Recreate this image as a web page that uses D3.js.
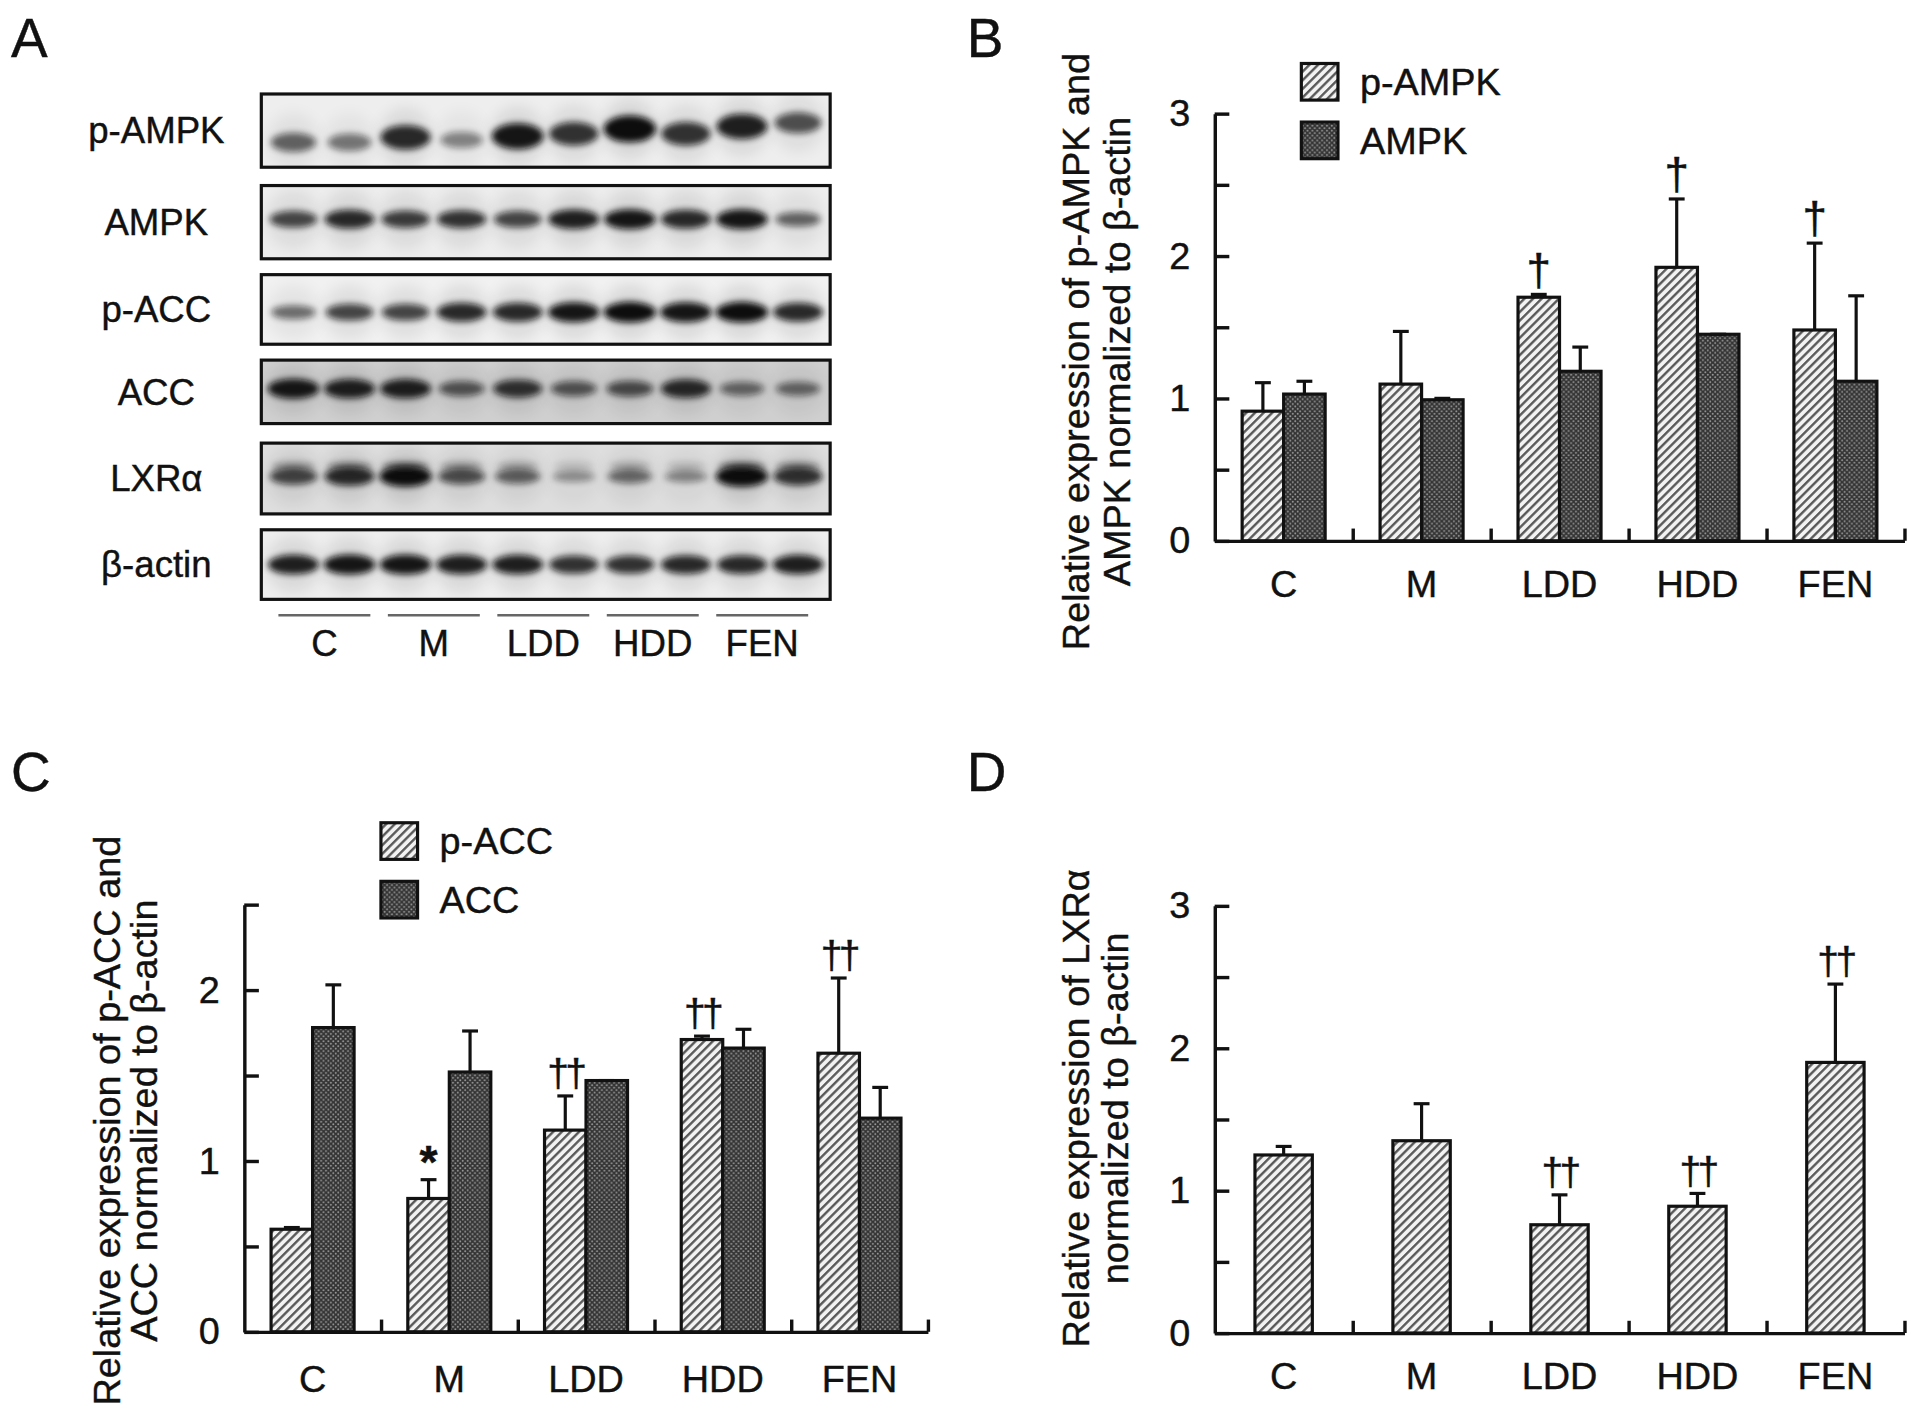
<!DOCTYPE html>
<html>
<head>
<meta charset="utf-8">
<script src="https://cdn.jsdelivr.net/npm/d3@7"></script>
<style>
  body { margin: 0; background: #fff; }
  svg { display: block; font-family: "Liberation Sans", Arial, sans-serif; }
  svg text { stroke: #111; stroke-width: 0.35px; }
</style>
</head>
<body>
<svg id="fig" width="1913" height="1416" viewBox="0 0 1567 1160"></svg>
<script>
// ---- data ----
var groups = ["C", "M", "LDD", "HDD", "FEN"];

var pAMPK   = [0.91, 1.10, 1.71, 1.92, 1.48];
var pAMPKsd = [0.20, 0.37, 0.02, 0.48, 0.61];
var AMPK    = [1.03, 0.99, 1.19, 1.45, 1.12];
var AMPKsd  = [0.09, 0.01, 0.17, 0.00, 0.60];
var markB   = ["", "", "†", "†", "†"];

var pACC    = [0.60, 0.78, 1.18, 1.71, 1.63];
var pACCsd  = [0.01, 0.11, 0.20, 0.02, 0.44];
var ACC     = [1.78, 1.52, 1.47, 1.66, 1.25];
var ACCsd   = [0.25, 0.24, 0.00, 0.11, 0.18];
var markC   = ["", "*", "††", "††", "††"];

var LXRa    = [1.25, 1.35, 0.76, 0.89, 1.90];
var LXRasd  = [0.06, 0.26, 0.21, 0.09, 0.55];
var markD   = ["", "", "††", "††", "††"];

// western blot: relative band density per lane (10 lanes, 2 per group)
var blotRows = ["p-AMPK", "AMPK", "p-ACC", "ACC", "LXRα", "β-actin"];
var bandsPAMPK = [0.55, 0.45, 0.85, 0.38, 0.95, 0.8, 1.0, 0.8, 0.9, 0.65];
var bandsAMPK  = [0.7, 0.85, 0.75, 0.8, 0.7, 0.9, 0.95, 0.85, 0.95, 0.55];
var bandsPACC  = [0.5, 0.7, 0.7, 0.85, 0.85, 0.95, 1.0, 0.95, 1.0, 0.85];
var bandsACC   = [0.95, 0.9, 0.9, 0.6, 0.8, 0.6, 0.65, 0.85, 0.5, 0.5];
var bandsLXR   = [0.7, 0.85, 1.0, 0.65, 0.55, 0.3, 0.5, 0.35, 1.0, 0.8];
var bandsActin = [0.9, 0.95, 0.95, 0.9, 0.9, 0.8, 0.8, 0.85, 0.85, 0.9];
var blotBands = [bandsPAMPK, bandsAMPK, bandsPACC, bandsACC, bandsLXR, bandsActin];

// ---- drawing ----
var svg = d3.select("#fig");
var defs = svg.append("defs");

var hatch = defs.append("pattern").attr("id", "hatch")
  .attr("patternUnits", "userSpaceOnUse").attr("width", 5).attr("height", 5)
  .attr("patternTransform", "rotate(45)");
hatch.append("rect").attr("width", 5).attr("height", 5).attr("fill", "#f2f2f2");
hatch.append("line").attr("x1", 1).attr("y1", 0).attr("x2", 1).attr("y2", 5)
  .attr("stroke", "#555").attr("stroke-width", 1.9);

var dots = defs.append("pattern").attr("id", "dots")
  .attr("patternUnits", "userSpaceOnUse").attr("width", 4).attr("height", 4);
dots.append("rect").attr("width", 4).attr("height", 4).attr("fill", "#333");
dots.append("circle").attr("cx", 1).attr("cy", 1).attr("r", 0.8).attr("fill", "#9a9a9a");
dots.append("circle").attr("cx", 3).attr("cy", 3).attr("r", 0.8).attr("fill", "#9a9a9a");

var blur = defs.append("filter").attr("id", "blur")
  .attr("x", "-50%").attr("y", "-100%").attr("width", "200%").attr("height", "300%");
blur.append("feGaussianBlur").attr("stdDeviation", 2.8);

var blur2 = defs.append("filter").attr("id", "blur2")
  .attr("x", "-50%").attr("y", "-100%").attr("width", "200%").attr("height", "300%");
blur2.append("feGaussianBlur").attr("stdDeviation", 6);

function panelLetter(t, x, y) {
  svg.append("text").attr("x", x).attr("y", y).attr("font-size", 45).attr("fill", "#111").text(t);
}
panelLetter("A", 9, 47);
panelLetter("B", 792, 47);
panelLetter("C", 9, 648);
panelLetter("D", 792, 648);

// ---------- panel A : blot ----------
var blotX0 = 214, blotX1 = 680;
var rowTop = [77, 152, 225, 295, 363, 434];
var rowBot = [137, 212, 282, 347, 421, 491];
var rowBandY = [0.66, 0.46, 0.54, 0.45, 0.47, 0.5];
var rowBg = ["#eeeeee", "#ededed", "#f1f1f1", "#cfcfcf", "#dedede", "#eeeeee"];
var pAMPKshift = [0, 0, -4, -2, -5, -7, -11, -7, -13, -16];

var lane = d3.scaleBand().domain(d3.range(10)).range([blotX0 + 2, blotX1 - 2]).padding(0.06);
var dens = d3.scaleLinear().domain([0, 1]).range([0.12, 1]);

var blot = svg.append("g");
blotRows.forEach(function (name, r) {
  var top = rowTop[r], bot = rowBot[r], h = bot - top;
  var cid = "clip" + r;
  defs.append("clipPath").attr("id", cid).append("rect")
    .attr("x", blotX0).attr("y", top).attr("width", blotX1 - blotX0).attr("height", h);
  var g = blot.append("g").attr("clip-path", "url(#" + cid + ")");
  g.append("rect").attr("x", blotX0).attr("y", top).attr("width", blotX1 - blotX0)
    .attr("height", h).attr("fill", rowBg[r]);
  var cy = function (d, i) { return top + h * rowBandY[r] + (r === 0 ? pAMPKshift[i] : 0); };
  var cx = function (d, i) { return lane(i) + lane.bandwidth() / 2; };
  // faint smear along each lane
  g.selectAll("ellipse.smear").data(blotBands[r]).enter().append("ellipse")
    .attr("cx", cx).attr("cy", cy)
    .attr("rx", lane.bandwidth() * 0.5).attr("ry", h * 0.4)
    .attr("fill", "#000").attr("opacity", function (d) { return 0.1 * d; })
    .attr("filter", "url(#blur2)");
  g.selectAll("ellipse.band").data(blotBands[r]).enter().append("ellipse")
    .attr("cx", cx).attr("cy", cy)
    .attr("rx", function (d) { return 15 + 6.5 * d; })
    .attr("ry", function (d) { return (r === 0 ? 4 : 3) + (r === 0 ? 7 : 5.5) * d; })
    .attr("fill", "#0a0a0a").attr("opacity", function (d) { return dens(d); })
    .attr("filter", "url(#blur)");
  if (r === 4) {
    // LXRα shows a doublet
    g.selectAll("ellipse.dbl").data(blotBands[r]).enter().append("ellipse")
      .attr("cx", cx).attr("cy", top + h * rowBandY[r] - 8)
      .attr("rx", function (d) { return 14 + 5 * d; }).attr("ry", 4)
      .attr("fill", "#111").attr("opacity", function (d) { return 0.5 * d; })
      .attr("filter", "url(#blur)");
  }
  blot.append("rect").attr("x", blotX0).attr("y", top).attr("width", blotX1 - blotX0)
    .attr("height", h).attr("fill", "none").attr("stroke", "#111").attr("stroke-width", 2.6);
  blot.append("text").attr("x", 128).attr("y", (top + bot) / 2).attr("dy", "0.35em")
    .attr("text-anchor", "middle").attr("font-size", 30).attr("fill", "#111").text(name);
});

var gLane = d3.scaleBand().domain(groups).range([blotX0 + 14, blotX1 - 18]).paddingInner(0.16);
blot.selectAll("line.grp").data(groups).enter().append("line")
  .attr("x1", function (d) { return gLane(d); })
  .attr("x2", function (d) { return gLane(d) + gLane.bandwidth(); })
  .attr("y1", 504).attr("y2", 504).attr("stroke", "#666").attr("stroke-width", 2);
blot.selectAll("text.grp").data(groups).enter().append("text")
  .attr("x", function (d) { return gLane(d) + gLane.bandwidth() / 2; })
  .attr("y", 537).attr("text-anchor", "middle").attr("font-size", 30).attr("fill", "#111")
  .text(function (d) { return d; });

// ---------- bar chart helper ----------
function barPanel(o) {
  var g = svg.append("g");
  var W = o.groupW * groups.length;
  var x = d3.scaleBand().domain(groups).range([o.x0, o.x0 + W]);
  var y = d3.scaleLinear().domain([0, o.ymax]).range([o.y0, o.ytop]);
  var xb = d3.scaleLinear().domain([0, groups.length]).range([o.x0, o.x0 + W]);

  // y axis, ticks inward
  var yAxis = d3.axisLeft(y).tickValues(d3.range(0, o.ymax + 0.01, 0.5))
    .tickSizeInner(-12).tickSizeOuter(0).tickPadding(20)
    .tickFormat(function (d) { return d % 1 === 0 ? d : ""; });
  var ya = g.append("g").attr("transform", "translate(" + o.x0 + ",0)").call(yAxis);
  ya.selectAll("text").attr("font-size", 31).attr("fill", "#111").attr("font-family", null);
  ya.selectAll("line, path").attr("stroke", "#111").attr("stroke-width", 2.8);

  // x axis with group separator ticks
  var xAxis = d3.axisBottom(xb).tickValues(d3.range(1, groups.length + 1))
    .tickSizeInner(-10).tickSizeOuter(0).tickFormat("");
  var xa = g.append("g").attr("transform", "translate(0," + o.y0 + ")").call(xAxis);
  xa.selectAll("line, path").attr("stroke", "#111").attr("stroke-width", 2.8);

  var xl = g.append("g").attr("transform", "translate(0," + o.y0 + ")")
    .call(d3.axisBottom(x).tickSize(0).tickPadding(o.labelPad));
  xl.select(".domain").remove();
  xl.selectAll("text").attr("font-size", 31).attr("fill", "#111").attr("font-family", null);

  // bars
  var n = o.series.length;
  var bw = o.barW;
  o.series.forEach(function (s, k) {
    var off = -n * bw / 2 + k * bw;
    var sg = g.append("g");
    sg.selectAll("rect").data(s.values).enter().append("rect")
      .attr("x", function (d, i) { return x(groups[i]) + x.bandwidth() / 2 + off; })
      .attr("y", function (d) { return y(d); })
      .attr("width", bw)
      .attr("height", function (d) { return o.y0 - y(d); })
      .attr("fill", "url(#" + s.fill + ")")
      .attr("stroke", "#111").attr("stroke-width", 2.6);
    var cx = function (i) { return x(groups[i]) + x.bandwidth() / 2 + off + bw / 2; };
    sg.selectAll("line.err").data(s.values).enter().append("line")
      .attr("x1", function (d, i) { return cx(i); })
      .attr("x2", function (d, i) { return cx(i); })
      .attr("y1", function (d) { return y(d); })
      .attr("y2", function (d, i) { return y(d + s.sd[i]); })
      .attr("stroke", "#111").attr("stroke-width", 2.6);
    sg.selectAll("line.cap").data(s.values).enter().append("line")
      .attr("x1", function (d, i) { return cx(i) - 6.5; })
      .attr("x2", function (d, i) { return cx(i) + 6.5; })
      .attr("y1", function (d, i) { return y(d + s.sd[i]); })
      .attr("y2", function (d, i) { return y(d + s.sd[i]); })
      .attr("stroke", "#111").attr("stroke-width", 2.6);
    if (s.marks) {
      sg.selectAll("text").data(s.values).enter().append("text")
        .attr("x", function (d, i) { return cx(i); })
        .attr("y", function (d, i) {
          return y(d + s.sd[i]) - (s.marks[i] === "*" ? 1 : 8);
        })
        .attr("text-anchor", "middle")
        .attr("font-size", function (d, i) { return s.marks[i] === "*" ? 38 : (s.marks[i].length > 1 ? 32 : 36); })
        .attr("font-weight", function (d, i) { return s.marks[i] === "*" ? "bold" : "normal"; })
        .attr("letter-spacing", function (d, i) { return s.marks[i].length > 1 ? -3 : 0; })
        .attr("fill", "#111")
        .text(function (d, i) { return s.marks[i]; });
    }
  });

  // y title (two lines, rotated)
  o.title.forEach(function (t, k) {
    g.append("text")
      .attr("transform", "translate(" + o.titleX[k] + "," + o.titleY + ") rotate(-90)")
      .attr("text-anchor", "middle").attr("dy", "0.35em")
      .attr("font-size", 31).attr("fill", "#111").text(t);
  });

  // legend
  if (o.legend) {
    o.series.forEach(function (s, k) {
      var ly = o.legend.y + k * o.legend.step;
      g.append("rect").attr("x", o.legend.x).attr("y", ly).attr("width", 30).attr("height", 30)
        .attr("fill", "url(#" + s.fill + ")").attr("stroke", "#111").attr("stroke-width", 2.6);
      g.append("text").attr("x", o.legend.x + 48).attr("y", ly + 15).attr("dy", "0.35em")
        .attr("font-size", 31).attr("fill", "#111").text(s.name);
    });
  }
}

// ---------- panel B ----------
barPanel({
  x0: 995, groupW: 113, y0: 443, ytop: 93, ymax: 3, barW: 34, labelPad: 24,
  series: [
    { name: "p-AMPK", values: pAMPK, sd: pAMPKsd, fill: "hatch", marks: markB },
    { name: "AMPK", values: AMPK, sd: AMPKsd, fill: "dots" }
  ],
  title: ["Relative expression of p-AMPK and", "AMPK normalized to β-actin"],
  titleX: [881, 915], titleY: 288,
  legend: { x: 1066, y: 52, step: 48 }
});

// ---------- panel C ----------
barPanel({
  x0: 200, groupW: 112, y0: 1091, ytop: 741, ymax: 2.5, barW: 34, labelPad: 27,
  series: [
    { name: "p-ACC", values: pACC, sd: pACCsd, fill: "hatch", marks: markC },
    { name: "ACC", values: ACC, sd: ACCsd, fill: "dots" }
  ],
  title: ["Relative expression of p-ACC and", "ACC normalized to β-actin"],
  titleX: [87, 118], titleY: 918,
  legend: { x: 312, y: 674, step: 48 }
});

// ---------- panel D ----------
barPanel({
  x0: 995, groupW: 113, y0: 1092, ytop: 742, ymax: 3, barW: 47, labelPad: 24,
  series: [
    { name: "LXRα", values: LXRa, sd: LXRasd, fill: "hatch", marks: markD }
  ],
  title: ["Relative expression of LXRα", "normalized to β-actin"],
  titleX: [881, 913], titleY: 908
});
</script>
</body>
</html>
